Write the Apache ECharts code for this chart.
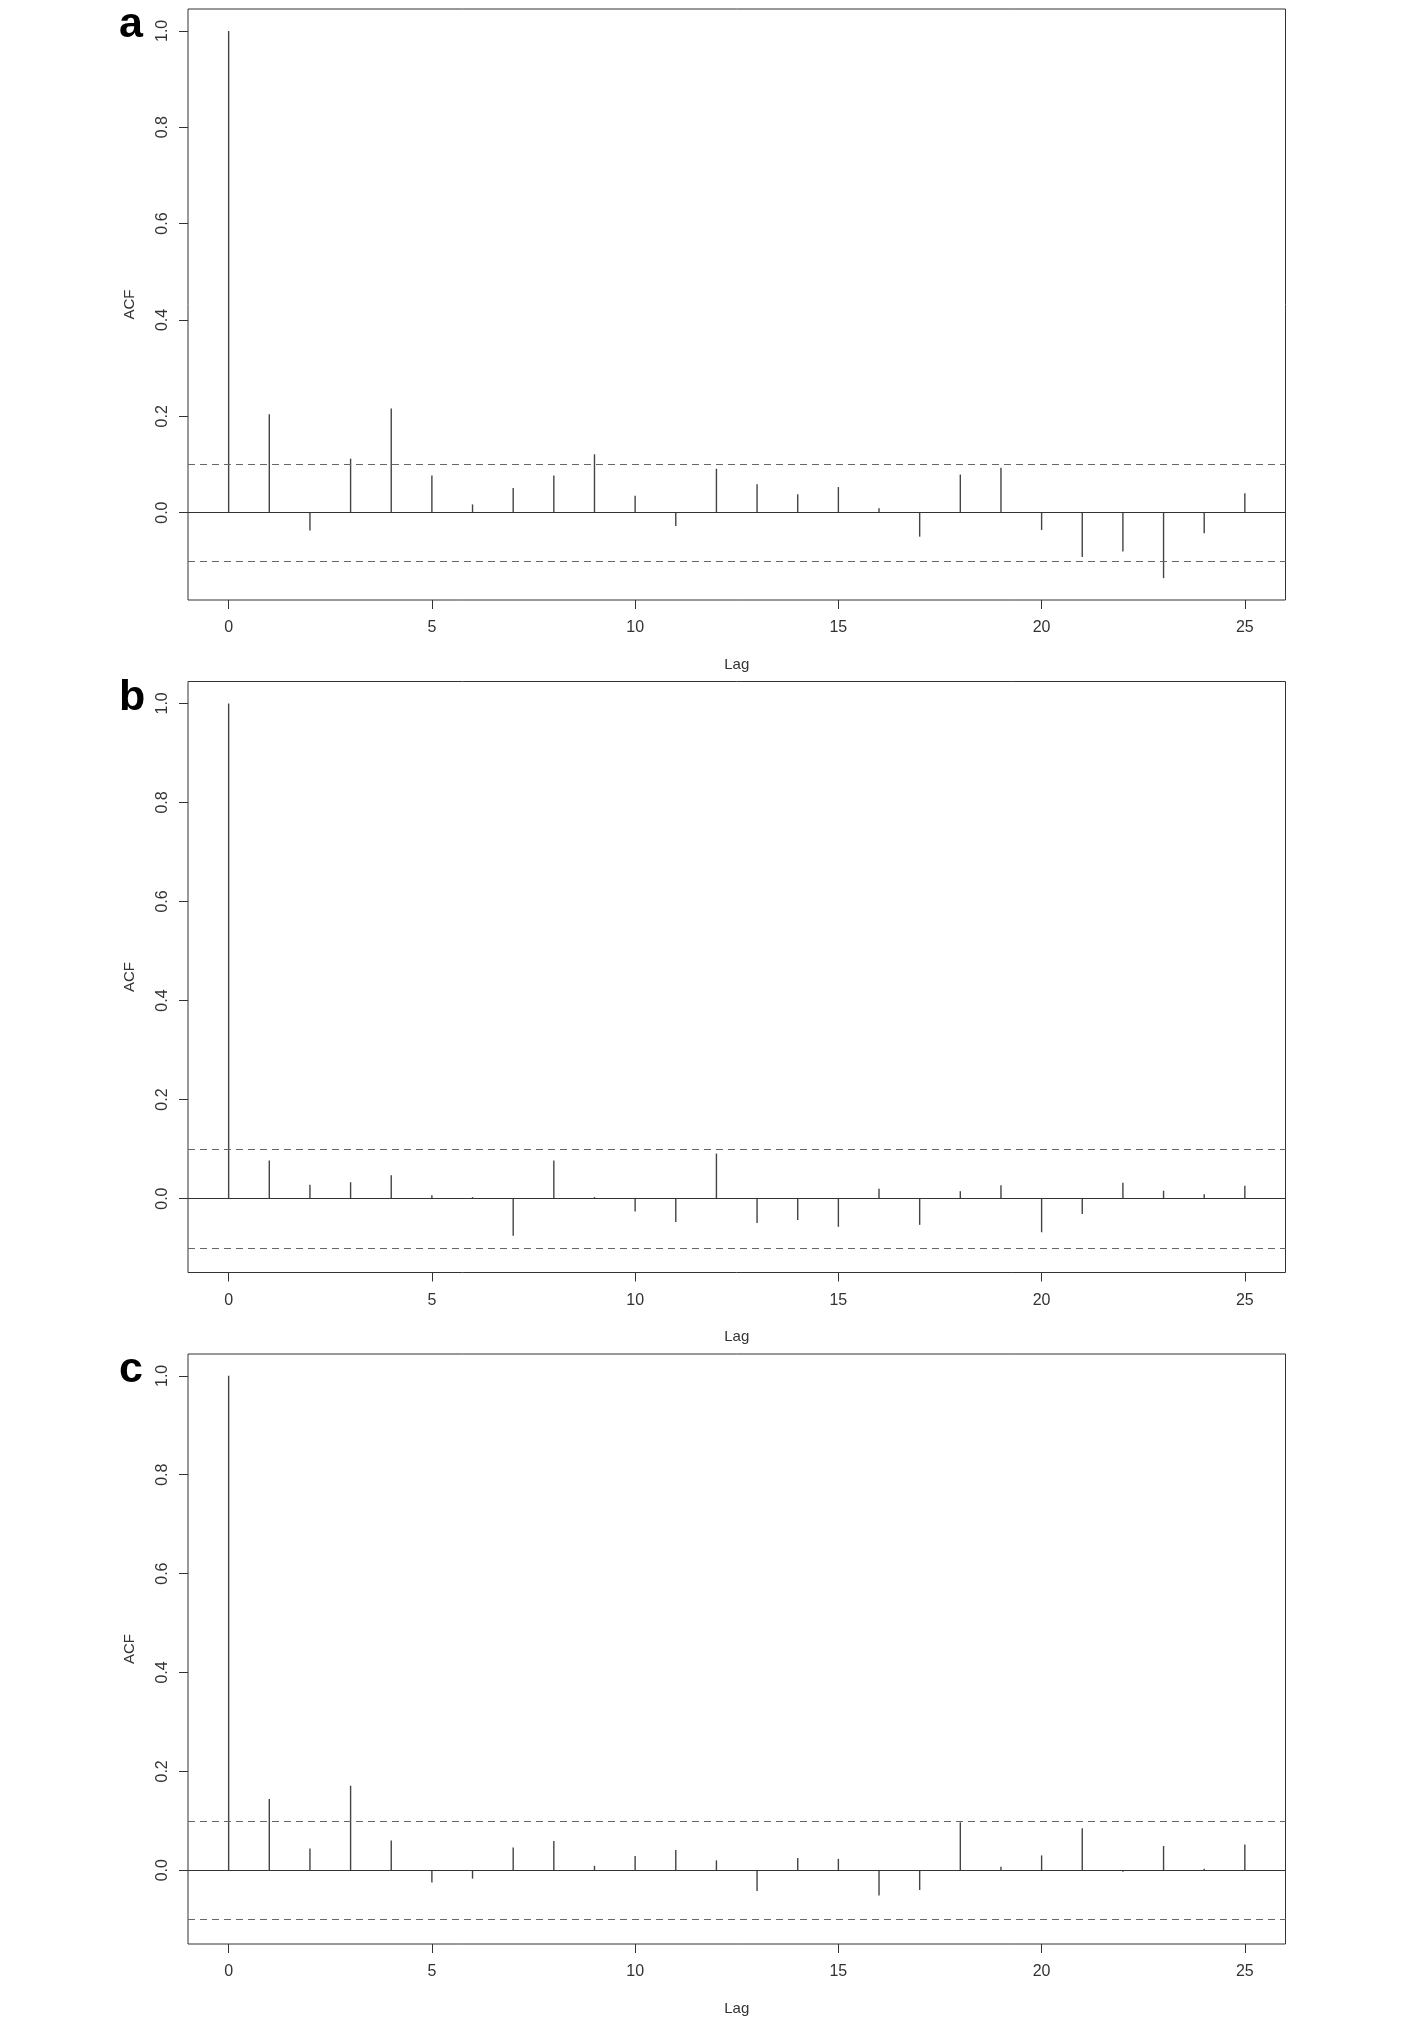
<!DOCTYPE html>
<html>
<head>
<meta charset="utf-8">
<script src="https://cdn.jsdelivr.net/npm/echarts@6/dist/echarts.min.js"></script>
<style>
  html, body { margin: 0; padding: 0; background: #fff; }
  #chart { width: 1406px; height: 2017px; }
</style>
</head>
<body>
<div id="chart"></div>
<script>
// lags 0..25
const lags = [0, 1, 2, 3, 4, 5, 6, 7, 8, 9, 10, 11, 12, 13, 14, 15, 16, 17, 18, 19, 20, 21, 22, 23, 24, 25]

// ACF values
const acfA = [1, 0.204, -0.037, 0.112, 0.216, 0.077, 0.017, 0.051, 0.077, 0.121, 0.035, -0.028, 0.091,
  0.059, 0.038, 0.053, 0.009, -0.050, 0.079, 0.093, -0.036, -0.092, -0.081, -0.136, -0.043, 0.040]
const acfB = [1, 0.077, 0.028, 0.033, 0.047, 0.007, 0.003, -0.075, 0.077, 0.003, -0.026, -0.047, 0.091,
  -0.049, -0.043, -0.057, 0.020, -0.053, 0.015, 0.027, -0.068, -0.031, 0.032, 0.016, 0.009, 0.026]
const acfC = [1, 0.144, 0.044, 0.171, 0.060, -0.025, -0.017, 0.046, 0.059, 0.009, 0.029, 0.041, 0.020,
  -0.042, 0.025, 0.023, -0.051, -0.040, 0.097, 0.007, 0.030, 0.085, -0.003, 0.049, 0.003, 0.052]

// 95% confidence bound
const clim = 0.105

const xTicks = [0, 5, 10, 15, 20, 25]
const yTicks = [0, 0.2, 0.4, 0.6, 0.8, 1.0]
const panelLetters = ['a', 'b', 'c']

const FONT = '"Liberation Sans", Arial, Helvetica, sans-serif'
const INK = '#333'

const panels = [
  { acf: acfA, top: 9, height: 591 },
  { acf: acfB, top: 681.5, height: 591 },
  { acf: acfC, top: 1354, height: 592 }
]

// R style limits: extend the range 4% each side
function yRange(acf) {
  const lo = Math.min(Math.min(...acf), -clim)
  const hi = Math.max(Math.max(...acf), clim)
  const r = hi - lo
  return [lo - 0.04 * r, hi + 0.04 * r]
}

const grid = []
const xAxis = []
const yAxis = []
const series = []
const graphic = []

panels.forEach((p, i) => {
  grid.push({
    left: 188,
    top: p.top,
    width: 1097.5,
    height: p.height,
    show: true,
    borderColor: INK,
    borderWidth: 1,
    backgroundColor: 'transparent'
  })
  xAxis.push({
    gridIndex: i,
    type: 'value',
    min: -1,
    max: 26,
    name: 'Lag',
    nameLocation: 'middle',
    nameGap: 57,
    nameTextStyle: { color: INK, fontSize: 15, fontFamily: FONT },
    axisLine: { show: false, onZero: false },
    axisTick: { show: true, inside: false, length: 9, lineStyle: { color: INK }, customValues: xTicks },
    axisLabel: { color: INK, fontSize: 16, fontFamily: FONT, margin: 20, customValues: xTicks },
    splitLine: { show: false }
  })
  const yr = yRange(p.acf)
  yAxis.push({
    gridIndex: i,
    type: 'value',
    min: yr[0],
    max: yr[1],
    name: 'ACF',
    nameLocation: 'middle',
    nameGap: 51,
    nameTextStyle: { color: INK, fontSize: 15, fontFamily: FONT },
    axisLine: { show: false, onZero: false },
    axisTick: { show: true, inside: false, length: 9, lineStyle: { color: INK }, customValues: yTicks },
    axisLabel: {
      color: INK,
      fontSize: 16,
      fontFamily: FONT,
      rotate: 90,
      margin: 17,
      customValues: yTicks,
      formatter: function(v) {
        return v.toFixed(1)
      }
    },
    splitLine: { show: false }
  })
  series.push({
    type: 'bar',
    xAxisIndex: i,
    yAxisIndex: i,
    barWidth: 1.4,
    itemStyle: { color: '#444' },
    data: lags.map((l, k) => [l, p.acf[k]]),
    markLine: {
      silent: true,
      symbol: 'none',
      label: { show: false },
      animation: false,
      data: [
        { yAxis: 0, lineStyle: { color: INK, type: 'solid', width: 1.2 } },
        { yAxis: clim, lineStyle: { color: '#666', type: [7, 5], width: 1.2 } },
        { yAxis: -clim, lineStyle: { color: '#666', type: [7, 5], width: 1.2 } }
      ]
    }
  })
  graphic.push({
    type: 'text',
    left: 119,
    top: p.top - 5,
    style: {
      text: panelLetters[i],
      fill: '#000',
      font: 'bold 43px ' + FONT
    }
  })
})

const chart = echarts.init(document.getElementById('chart'))
chart.setOption({
  animation: false,
  backgroundColor: '#fff',
  grid: grid,
  xAxis: xAxis,
  yAxis: yAxis,
  series: series,
  graphic: graphic
})
</script>
</body>
</html>
